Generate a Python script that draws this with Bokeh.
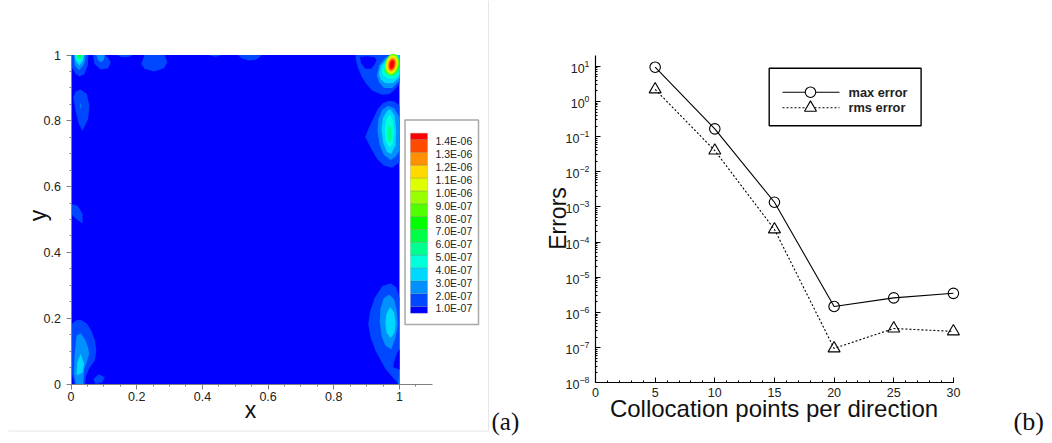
import math
from bokeh.plotting import figure
from bokeh.layouts import row
from bokeh.embed import file_html
from bokeh.resources import INLINE
from bokeh.core.properties import value
from bokeh.models import FixedTicker, Range1d, Label, SingleIntervalTicker

# ---------- panel (b) data ----------
points = [5, 10, 15, 20, 25, 30]
max_error = [9.4, 0.166, 1.36e-3, 1.48e-6, 2.6e-6, 3.5e-6]
rms_error = [2.2, 0.04, 2.3e-4, 9.5e-8, 3.5e-7, 2.9e-7]
series_names = ["max error", "rms error"]

# ---------- panel (a) data ----------
level_values = [1e-7, 2e-7, 3e-7, 4e-7, 5e-7, 6e-7, 7e-7, 8e-7, 9e-7, 1e-6, 1.1e-6, 1.2e-6, 1.3e-6, 1.4e-6]
level_labels = ["1.0E-07", "2.0E-07", "3.0E-07", "4.0E-07", "5.0E-07", "6.0E-07", "7.0E-07", "8.0E-07",
                "9.0E-07", "1.0E-06", "1.1E-06", "1.2E-06", "1.3E-06", "1.4E-06"]
band_colors = ["#0000ff", "#0048ff", "#0091ff", "#00d9ff", "#00ffdb", "#00ff91", "#00ff48", "#00ff00",
               "#50ff00", "#97ff00", "#dfff00", "#ffd900", "#ff9100", "#ff4a00", "#ff0000"]
x_ticks = [0, 0.2, 0.4, 0.6, 0.8, 1]
x_minor = [0.05, 0.1, 0.15, 0.25, 0.3, 0.35, 0.45, 0.5, 0.55, 0.65, 0.7, 0.75, 0.85, 0.9, 0.95, 1.05]
tick_text = ["0", "0.2", "0.4", "0.6", "0.8", "1"]

# contour regions: (x outline, y outline)
tr1 = ([.866, .868, .873, .886, .899, .917, .947, .968, .983, 1, 1], [1, .983, .963, .932, .912, .892, .879, .881, .892, .912, 1])
tr_notch = ([.879, .883, .896, .914, .924, .930, .924, .902], [.995, .975, .958, .958, .971, .985, .993, .996])
tr2 = ([.931, .938, .958, .973, 1, 1, .978, .953, .938], [.937, .968, .993, 1, 1, .922, .900, .900, .917])
tr3 = ([.937, .943, .961, .975, 1, 1, .981, .958, .943], [.942, .968, .988, .998, 1, .932, .915, .914, .925])
tr4 = ([.946, .951, .965, .978, .993, 1, 1, .983, .963, .951], [.948, .968, .988, .996, .997, .988, .942, .927, .929, .938])
tr5 = ([.953, .958, .968, .981, .995, 1, 1, .985, .966, .956], [.953, .973, .988, .995, .991, .978, .953, .937, .939, .944])
tr6 = ([.957, .961, .970, .981, .993, .998, .997, .985, .968], [.958, .975, .987, .994, .988, .973, .955, .944, .945])
tr7 = ([.959, .963, .971, .981, .991, .996, .995, .983, .969], [.963, .976, .986, .991, .986, .973, .958, .949, .950])
rm1 = ([.896, .905, .919, .934, .949, .968, .986, 1, 1, .978, .952, .932, .912],
       [.750, .775, .805, .836, .853, .861, .858, .846, .674, .657, .664, .684, .719])
rm2 = ([.933, .936, .947, .964, .983, 1, 1, .988, .973, .952, .939],
       [.770, .805, .833, .846, .839, .811, .709, .691, .681, .697, .729])
rm3 = ([.945, .95, .962, .972, .985, .99, .988, .975, .962, .95], [.775, .81, .83, .835, .815, .77, .725, .70, .705, .735])
rm4 = ([.955, .96, .97, .98, .983, .978, .968, .958], [.775, .805, .82, .80, .76, .725, .72, .74])
rm5 = ([.962, .967, .975, .977, .972, .966], [.765, .785, .78, .76, .735, .74])
br1 = ([.905, .910, .924, .947, .973, .99, 1, 1, .988, .957, .927, .912],
       [.182, .218, .261, .297, .306, .294, .263, 0, .01, .046, .101, .142])
br_notch = ([1, .993, .983, .981, 1], [.106, .096, .066, .051, .044])
br2 = ([.94, .942, .952, .968, .983, .991, .995, .988, .975, .957, .945],
       [.192, .228, .261, .272, .258, .228, .182, .142, .106, .117, .147])
br3 = ([.957, .96, .971, .983, .988, .985, .973, .96], [.187, .213, .233, .218, .187, .157, .14, .157])
br_corner = ([.996, 1, 1], [0, 0, .04])
tl1 = ([.003, .003, .014, .027, .041, .051, .053], [1, .962, .942, .935, .942, .968, 1])
tl2 = ([.009, .011, .025, .04, .045], [1, .968, .954, .973, 1])
tl3 = ([.011, .014, .025, .036, .04], [1, .981, .967, .981, 1])
tl4 = ([.013, .019, .026, .034, .038], [1, .983, .977, .988, 1])
tl5 = ([.015, .021, .027, .032, .036], [1, .988, .985, .993, 1])
tl6 = ([.019, .024, .028, .032], [1, .992, .991, 1])
t2a = ([.067, .072, .09, .113, .121, .111, .101], [1, .973, .956, .96, .978, .995, 1])
t2b = ([.077, .082, .092, .10, .103], [1, .985, .978, .985, 1])
t3 = ([.141, .15, .163, .178, .187], [1, .995, .993, .995, 1])
t4 = ([.224, .214, .224, .253, .283, .293, .285], [1, .973, .958, .950, .96, .978, 1])
t5 = ([.42, .43, .44, .45, .455], [1, .997, .995, .997, 1])
t6 = ([.507, .52, .54, .56, .57, .58], [1, .99, .983, .985, .99, 1])
lm1 = ([.007, .014, .029, .048, .056, .052, .035, .024, .014], [.871, .889, .895, .882, .846, .805, .77, .79, .83])
lm2 = ([.028, .031, .03, .028], [.855, .846, .835, .845])
lh = ([0, .02, .035, .035, .021, 0], [.547, .542, .517, .488, .498, .517])
bl1 = ([.003, .014, .029, .048, .062, .073, .077, .072, .055, .046, .042, .011, .003, .001],
       [.182, .193, .195, .184, .162, .132, .101, .071, .046, .025, 0, 0, .03, .101])
bl2 = ([.017, .029, .042, .052, .055, .048, .04, .037, .015, .009, .011],
       [.147, .154, .137, .111, .091, .066, .046, 0, 0, .03, .091])
bl3 = ([.017, .019, .029, .04, .035, .021], [.03, .066, .091, .061, .035, .028])
bs = ([.068, .085, .103, .095, .075], [.015, .03, .02, .005, 0])

regions = [(tr1, 1), (tr_notch, 0), (tr2, 2), (tr3, 3), (tr4, 4), (tr5, 5), (tr6, 6), (tr7, 7),
           (rm1, 1), (rm2, 2), (rm3, 3), (rm4, 4), (rm5, 5),
           (br1, 1), (br_notch, 0), (br2, 2), (br3, 3), (br_corner, 2),
           (tl1, 1), (tl2, 2), (tl3, 3), (tl4, 4), (tl5, 5), (tl6, 6),
           (t2a, 1), (t2b, 2), (t3, 1), (t4, 1), (t5, 1), (t6, 1),
           (lm1, 1), (lm2, 2), (lh, 1), (bl1, 1), (bl2, 2), (bl3, 3), (bs, 1)]

# hot core of the top-right peak: band index, width, height
core_band = [8, 9, 10, 11, 12, 13, 14]
core_w = [.042, .038, .034, .030, .024, .018, .013]
core_h = [.067, .061, .055, .049, .041, .033, .026]

FONT = "Liberation Sans"
SERIF = "Liberation Serif"
H = 440
W1, W2 = 520, 532
Y_TOP = 10 ** 1.3


# pixel-to-data helpers for page decorations (frames cover the whole canvas)
def x1(px):
    return (px - 70.5) / 328.5


def y1(py):
    return (383.5 - py) / 329.0


def x2(px):
    return (px - 595.0) / 11.93


def y2(py):
    return 10 ** (-8 + (382.3 - py) / 35.17)


def style_axis(ax, color, size):
    ax.major_label_text_font = FONT
    ax.major_label_text_font_size = size
    ax.major_label_text_color = "#222222"
    ax.axis_line_color = color
    ax.major_tick_line_color = color
    ax.minor_tick_line_color = color


# ---------- panel (a) ----------
p1 = figure(width=W1, height=H, output_backend="svg", toolbar_location=None,
            x_range=Range1d(x1(0), x1(W1)), y_range=Range1d(y1(H), y1(0)),
            min_border=0, outline_line_color=None)
p1.grid.visible = False
p1.quad(left=0, right=1, bottom=0, top=1, fill_color=band_colors[0], fill_alpha=1, line_color=None)
p1.patches([r[0][0] for r in regions], [r[0][1] for r in regions],
           fill_color=[band_colors[r[1]] for r in regions], fill_alpha=1, line_color=None)
p1.ellipse(x=[.977] * 7, y=[.971] * 7, width=core_w, height=core_h, angle=-0.2,
           fill_color=[band_colors[b] for b in core_band], fill_alpha=1, line_color=None)

ax, ay = p1.xaxis[0], p1.yaxis[0]
ax.fixed_location = 0
ay.fixed_location = 0
ax.bounds = (0, 1.1)
ay.bounds = (0, 1)
ax.ticker = FixedTicker(ticks=x_ticks, minor_ticks=x_minor)
ay.ticker = FixedTicker(ticks=x_ticks, minor_ticks=[m for m in x_minor if m < 1])
for a in (ax, ay):
    a.major_label_overrides = dict(zip(x_ticks, tick_text))
    style_axis(a, "#808080", "12.5px")
    a.major_tick_in = 0
    a.minor_tick_in = 0
    a.major_tick_out = 5
    a.minor_tick_out = 2
    a.major_label_standoff = 5
ax.major_label_standoff = 3


def level_y(v):
    return 0.2356 + (v - 1e-7) / 1e-7 * 0.03906


p1.quad(left=x1(404.5), right=x1(478), bottom=y1(324), top=y1(119.5), fill_color="white", fill_alpha=1,
        line_color="#a8a8a8", line_width=1.5)
edges = [y1(312.7)] + [level_y(v) for v in level_values] + [y1(132.7)]
p1.quad(left=x1(410), right=x1(427), bottom=edges[:-1], top=edges[1:], fill_color=band_colors, fill_alpha=1,
        line_color="#707070", line_alpha=0.35, line_width=0.7)
p1.text(x=[x1(435)] * len(level_labels), y=[level_y(v) - 0.006 for v in level_values], text=level_labels,
        text_font=value(FONT), text_font_size="10.5px", text_color="#222222", text_baseline="middle")

p1.segment(x0=[x1(488), x1(8)], y0=[y1(0), y1(430.5)], x1=[x1(488), x1(488)], y1=[y1(431), y1(430.5)],
           line_color="#e6e6e6", line_width=1)
p1.add_layout(Label(x=x1(250), y=y1(409), text="x", text_font=FONT, text_font_size="23px", text_color="#111111",
                    text_align="center", text_baseline="middle"))
p1.add_layout(Label(x=x1(37), y=y1(215), text="y", text_font=FONT, text_font_size="23px", text_color="#111111",
                    angle=math.pi / 2, text_align="center", text_baseline="middle"))
p1.add_layout(Label(x=x1(491), y=y1(421), text="(a)", text_font=SERIF, text_font_size="25px", text_color="#111111",
                    text_baseline="middle"))

# ---------- panel (b) ----------
p2 = figure(width=W2, height=H, output_backend="svg", toolbar_location=None, y_axis_type="log",
            x_range=Range1d(x2(520), x2(520 + W2)), y_range=Range1d(y2(H), y2(0)),
            min_border=0, outline_line_color=None)
p2.grid.visible = False
p2.line(points, max_error, line_color="black", line_width=1.1)
p2.scatter(points, max_error, marker="circle", size=10.5, fill_color=None, line_color="black", line_width=1.1)
p2.line(points, rms_error, line_color="black", line_width=1.1, line_dash="2 2")
p2.scatter(points, rms_error, marker="triangle", size=12, fill_color=None, line_color="black", line_width=1.1)

xa, ya = p2.xaxis[0], p2.yaxis[0]
xa.fixed_location = 1e-8
ya.fixed_location = 0
xa.bounds = (0, 30)
ya.bounds = (1e-8, Y_TOP)
xa.ticker = SingleIntervalTicker(interval=5, num_minor_ticks=5)
decades = [10.0 ** e for e in range(-8, 2)]
ya.ticker = FixedTicker(ticks=decades,
                        minor_ticks=[m * d for d in decades for m in range(2, 10) if m * d <= Y_TOP])
for a in (xa, ya):
    style_axis(a, "black", "12.5px")
    a.axis_line_width = 1.2
    a.major_tick_in = 5
    a.major_tick_out = 0
    a.minor_tick_in = 2
    a.minor_tick_out = 0
xa.major_label_standoff = 5
ya.major_label_standoff = 6

p2.add_layout(Label(x=x2(773.5), y=y2(408), text="Collocation points per direction", text_font=FONT,
                    text_font_size="24px", text_color="#111111", text_align="center", text_baseline="middle"))
p2.add_layout(Label(x=x2(557.5), y=y2(218), text="Errors", text_font=FONT, text_font_size="23px", text_color="#111111",
                    angle=math.pi / 2, text_align="center", text_baseline="middle"))
p2.add_layout(Label(x=x2(1013), y=y2(421), text="(b)", text_font=SERIF, text_font_size="26px", text_color="#111111",
                    text_baseline="middle"))

# legend box
p2.quad(left=x2(768.7), right=x2(920.6), bottom=y2(125.3), top=y2(67.7), fill_color="white", fill_alpha=1,
        line_color="black", line_width=1.4)
p2.line([x2(782), x2(839)], [y2(91.7)] * 2, line_color="black", line_width=1.1)
p2.line([x2(782), x2(839)], [y2(107.3)] * 2, line_color="black", line_width=1.1, line_dash="2 2")
p2.scatter([x2(810)], [y2(91.7)], marker="circle", size=10.5, fill_color="white", fill_alpha=1,
           line_color="black", line_width=1.1)
p2.scatter([x2(810)], [y2(107.3)], marker="triangle", size=12, fill_color="white", fill_alpha=1,
           line_color="black", line_width=1.1)
p2.text(x=[x2(848)] * 2, y=[y2(91.7), y2(107.3)], text=series_names, text_font=value(FONT),
        text_font_size="12.8px", text_font_style="bold", text_color="#222222", text_baseline="middle")

layout = row(p1, p2, spacing=0)
open("out.html", "w").write(file_html(layout, INLINE))
